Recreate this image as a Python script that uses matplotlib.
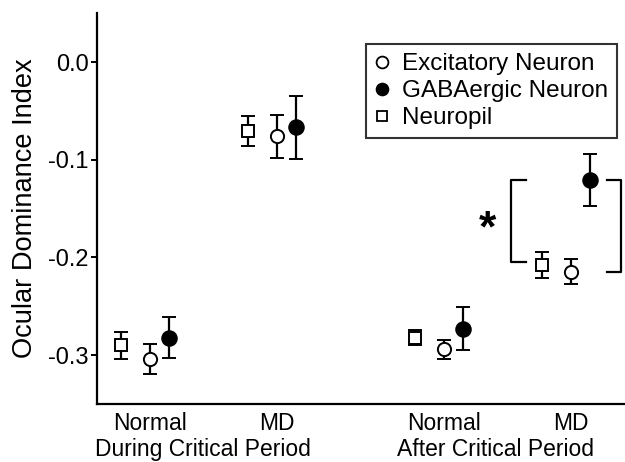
import matplotlib
matplotlib.use("Agg")
import matplotlib.pyplot as plt

plt.rcParams['font.family'] = ['Liberation Sans', 'DejaVu Sans']
plt.rcParams['axes.unicode_minus'] = False

# group centres on the x axis (position of the circle markers)
group_pos = [1.0, 2.0, 3.315, 4.315]
group_labels = ['Normal', 'MD', 'Normal', 'MD']
period_labels = ['During Critical Period', 'After Critical Period']
period_pos = [1.42, 3.724]

neuropil_mean = [-0.290, -0.0705, -0.282, -0.2078]
neuropil_err = [0.014, 0.015, 0.008, 0.013]
exc_mean = [-0.304, -0.076, -0.294, -0.2147]
exc_err = [0.015, 0.022, 0.0095, 0.0127]
gaba_mean = [-0.282, -0.067, -0.273, -0.1207]
gaba_err = [0.021, 0.032, 0.022, 0.027]

sq_off, gaba_off = -0.228, 0.15

fig = plt.figure(figsize=(6.25, 4.62), dpi=100)
ax = fig.add_axes([0.155, 0.1255, 0.845, 0.846])

common = dict(linestyle='none', ecolor='black', elinewidth=1.6, capsize=4.7,
              capthick=1.6, markeredgecolor='black', markeredgewidth=1.4)
ax.errorbar([p + sq_off for p in group_pos], neuropil_mean, yerr=neuropil_err,
            marker='s', markersize=8.5, markerfacecolor='white', **common)
ax.errorbar(group_pos, exc_mean, yerr=exc_err,
            marker='o', markersize=9.5, markerfacecolor='white', **common)
ax.errorbar([p + gaba_off for p in group_pos], gaba_mean, yerr=gaba_err,
            marker='o', markersize=10.5, markerfacecolor='black', **common)

# significance brackets
lx, lx2 = 3.843, 3.961
ax.plot([lx2, lx, lx, lx2], [gaba_mean[3], gaba_mean[3], -0.2045, -0.2045],
        color='black', lw=1.6, clip_on=False)
rx, rx2 = 4.709, 4.598
ax.plot([rx2, rx, rx, rx2], [gaba_mean[3], gaba_mean[3], exc_mean[3], exc_mean[3]],
        color='black', lw=1.6, clip_on=False)
ax.text(3.659, -0.172, '*', fontsize=32, fontweight='bold', ha='center', va='center')

ax.set_xlim(0.583, 4.74)
ax.set_ylim(-0.35, 0.05)
ax.set_yticks([0.0, -0.1, -0.2, -0.3])
ax.set_yticklabels(['0.0', '-0.1', '-0.2', '-0.3'])
ax.set_xticks(group_pos)
ax.set_xticklabels(group_labels)
ax.tick_params(axis='x', length=0, pad=6, labelsize=16.5)
ax.tick_params(axis='y', length=4, width=1.4, pad=2, labelsize=17)
ax.spines['top'].set_visible(False)
ax.spines['right'].set_visible(False)
for s in ['left', 'bottom']:
    ax.spines[s].set_linewidth(1.6)
ax.set_ylabel('Ocular Dominance Index', fontsize=19.6, labelpad=7)

for lab, xp in zip(period_labels, period_pos):
    ax.annotate(lab, xy=(xp, -0.088), xycoords=('data', 'axes fraction'),
                ha='center', va='top', fontsize=16.5, annotation_clip=False)

h1 = plt.Line2D([], [], marker='o', ls='none', mfc='white', mec='black', ms=8.5, mew=1.3)
h2 = plt.Line2D([], [], marker='o', ls='none', mfc='black', mec='black', ms=8.5, mew=1.3)
h3 = plt.Line2D([], [], marker='s', ls='none', mfc='white', mec='black', ms=7.5, mew=1.3)
leg = ax.legend([h1, h2, h3], ['Excitatory Neuron', 'GABAergic Neuron', 'Neuropil'],
                loc='upper left', bbox_to_anchor=(0.5095, 0.9207), fontsize=17.5,
                frameon=True, fancybox=False, handlelength=0.6, handletextpad=0.5,
                borderpad=0.38, labelspacing=0.2, borderaxespad=0)
leg.get_frame().set_edgecolor('black')
leg.get_frame().set_linewidth(1.5)

fig.savefig('out.png', dpi=100)
